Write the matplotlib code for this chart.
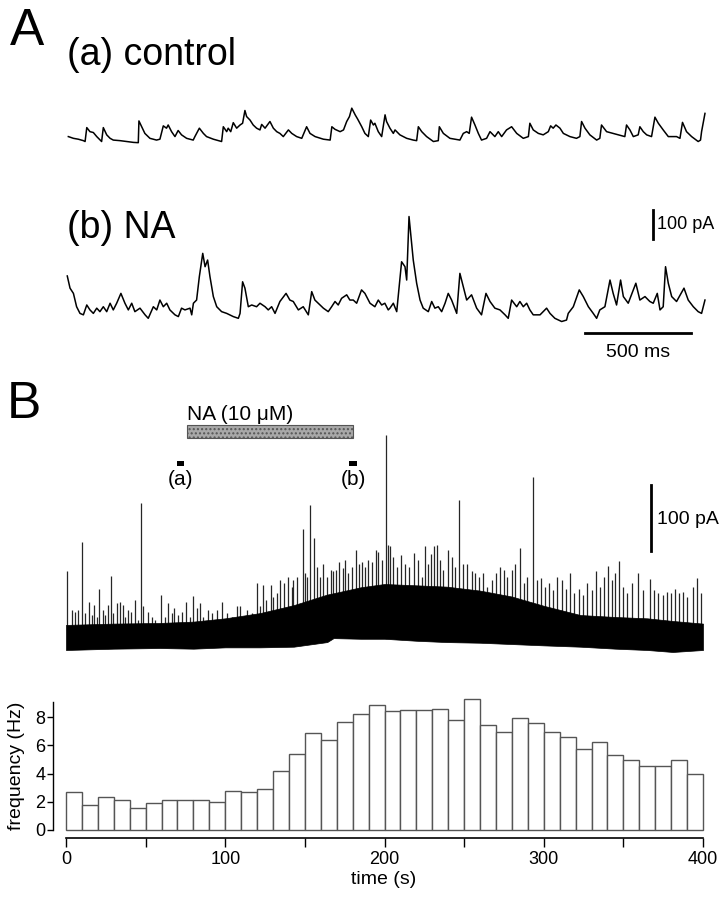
import numpy as np
import matplotlib
matplotlib.use("Agg")
import matplotlib.pyplot as plt
from matplotlib.patches import Rectangle

plt.rcParams['font.family'] = ['Liberation Sans', 'DejaVu Sans']

# ---------------- data ----------------
# Panel A(a): control trace (time ms, current pA above baseline)
control_trace = [
    (11, 29), (35, 23), (58, 20), (82, 15), (90, 12), (98, 60), (113, 46), (129, 43), (145, 29), (168, 12),
    (176, 60), (192, 35), (208, 23), (223, 17), (255, 15), (286, 12), (318, 9), (341, 8), (344, 83), (357, 63),
    (372, 40), (396, 23), (427, 17), (443, 20), (459, 66), (474, 58), (482, 69), (498, 46), (514, 29), (529, 50),
    (545, 35), (569, 23), (600, 17), (608, 29), (629, 58), (648, 40), (663, 29), (695, 20), (734, 12), (742, 63),
    (758, 46), (765, 58), (777, 46), (789, 77), (805, 58), (821, 69), (833, 75), (844, 119), (852, 98), (868, 86),
    (883, 69), (899, 58), (915, 52), (923, 71), (939, 58), (962, 81), (978, 58), (994, 46), (1009, 40), (1025, 29),
    (1049, 52), (1065, 40), (1088, 29), (1112, 23), (1135, 63), (1151, 40), (1175, 29), (1214, 20), (1246, 17),
    (1254, 63), (1269, 54), (1293, 46), (1309, 52), (1324, 81), (1337, 98), (1348, 127), (1364, 104), (1376, 89),
    (1395, 63), (1410, 40), (1426, 29), (1437, 86), (1450, 69), (1457, 75), (1473, 46), (1489, 29), (1505, 104),
    (1512, 81), (1528, 58), (1544, 40), (1552, 52), (1575, 35), (1607, 23), (1638, 17), (1654, 15), (1662, 63),
    (1678, 46), (1701, 29), (1733, 12), (1756, 15), (1761, 63), (1780, 40), (1811, 23), (1858, 17), (1874, 40),
    (1890, 46), (1902, 40), (1913, 96), (1929, 69), (1945, 40), (1960, 17), (1984, 23), (2000, 46), (2023, 29),
    (2039, 46), (2055, 29), (2078, 52), (2102, 63), (2126, 40), (2157, 23), (2181, 29), (2188, 75), (2204, 52),
    (2228, 40), (2251, 35), (2275, 46), (2286, 66), (2298, 58), (2311, 69), (2330, 58), (2346, 40), (2377, 29),
    (2408, 23), (2424, 29), (2432, 81), (2448, 58), (2471, 35), (2503, 17), (2518, 23), (2526, 69), (2550, 46),
    (2581, 40), (2605, 35), (2636, 29), (2644, 69), (2660, 52), (2676, 29), (2699, 35), (2707, 63), (2723, 46),
    (2739, 35), (2762, 29), (2778, 96), (2794, 75), (2817, 52), (2841, 29), (2880, 29), (2896, 23), (2908, 78),
    (2927, 46), (2951, 29), (2982, 12), (2993, 17), (2998, 46), (3014, 109),
]

# Panel A(b): NA trace (time ms, current pA)
na_trace = [
    (6, 238), (19, 196), (35, 178), (50, 132), (66, 109), (82, 104), (98, 138), (113, 121), (129, 109), (145, 127),
    (160, 115), (176, 132), (192, 115), (208, 144), (223, 121), (239, 144), (259, 178), (278, 144), (294, 121),
    (310, 144), (325, 115), (349, 127), (373, 104), (388, 92), (412, 132), (428, 121), (443, 155), (459, 132),
    (475, 144), (490, 121), (514, 104), (530, 98), (545, 127), (561, 121), (585, 127), (593, 104), (601, 144),
    (616, 155), (629, 236), (645, 316), (656, 270), (668, 293), (679, 236), (695, 167), (711, 132), (734, 115),
    (758, 109), (789, 98), (813, 92), (821, 109), (833, 218), (844, 196), (860, 132), (876, 138), (899, 132),
    (915, 144), (939, 132), (954, 121), (970, 132), (986, 109), (1009, 150), (1038, 178), (1056, 155), (1072, 150),
    (1096, 121), (1119, 132), (1143, 104), (1159, 184), (1174, 155), (1190, 144), (1214, 127), (1237, 115),
    (1253, 132), (1269, 150), (1284, 138), (1300, 161), (1324, 173), (1339, 155), (1355, 155), (1371, 144),
    (1394, 190), (1410, 178), (1434, 144), (1457, 132), (1473, 155), (1489, 138), (1504, 144), (1520, 121),
    (1528, 127), (1544, 144), (1560, 115), (1567, 167), (1583, 287), (1599, 270), (1607, 224), (1618, 443),
    (1630, 351), (1638, 293), (1654, 213), (1670, 155), (1685, 127), (1709, 115), (1725, 150), (1740, 127),
    (1756, 132), (1772, 115), (1788, 144), (1803, 178), (1819, 155), (1843, 109), (1858, 247), (1874, 201),
    (1890, 155), (1913, 173), (1937, 127), (1960, 104), (1981, 178), (2000, 150), (2023, 127), (2047, 121),
    (2071, 104), (2086, 92), (2102, 155), (2126, 132), (2141, 150), (2157, 132), (2173, 144), (2188, 121),
    (2204, 104), (2236, 104), (2267, 127), (2283, 109), (2306, 92), (2338, 81), (2361, 86), (2369, 109),
    (2393, 132), (2421, 190), (2440, 167), (2464, 132), (2487, 109), (2503, 92), (2518, 121), (2542, 132),
    (2566, 224), (2581, 178), (2597, 138), (2616, 224), (2629, 167), (2652, 144), (2688, 213), (2707, 155),
    (2731, 167), (2754, 150), (2770, 144), (2789, 178), (2802, 121), (2817, 132), (2828, 270), (2841, 213),
    (2857, 167), (2880, 150), (2915, 196), (2935, 155), (2959, 132), (2982, 115), (2998, 109), (3014, 155),
]

# Panel B: long recording (time s, current pA) - dense band envelope
band_t = [0, 30, 59, 80, 100, 122, 143, 164, 168, 185, 200, 220, 239, 260, 280, 300, 323, 345, 365, 381, 400]
band_low = [0, 2, 3, 2, 4, 4, 5, 12, 18, 17, 17, 14, 12, 11, 9, 7, 5, 2, 0, -3, 0]
band_top = [38, 40, 41, 43, 48, 56, 68, 84, 86, 95, 100, 98, 96, 90, 81, 67, 53, 50, 48, 44, 40]

# Panel B: individual event peaks (time s, pA)
events = [
    (0.4, 119), (3.6, 61), (5.6, 58), (7.7, 61), (9.8, 164), (11.9, 56), (14.6, 73), (16.1, 53), (17.8, 68),
    (19.3, 50), (20.9, 93), (23.0, 61), (24.5, 53), (26.2, 68), (28.3, 112), (29.7, 56), (32.2, 71), (33.9, 73),
    (35.6, 68), (37.0, 50), (39.1, 61), (40.8, 58), (43.3, 76), (45.4, 45), (47.1, 222), (48.6, 66), (51.3, 58),
    (53.8, 50), (55.9, 45), (59.6, 83), (62.2, 50), (63.8, 71), (66.3, 56), (68.0, 63), (70.5, 53), (72.6, 58),
    (75.3, 73), (77.9, 50), (79.5, 82), (82.0, 63), (84.1, 71), (86.2, 50), (89.4, 61), (91.5, 56), (94.6, 61),
    (97.7, 73), (100.9, 56), (104.0, 50), (107.2, 66), (109.2, 66), (111.3, 50), (113.4, 61), (116.6, 56),
    (119.7, 102), (121.8, 66), (123.5, 98), (125.6, 76), (128.5, 98), (130.2, 81), (132.3, 86), (134.4, 106),
    (136.9, 101), (139.6, 111), (141.7, 96), (142.7, 106), (145.3, 111), (148.6, 184), (150.1, 116), (151.5, 111),
    (153.2, 220), (155.7, 169), (157.4, 126), (159.5, 111), (161.6, 131), (163.7, 111), (166.2, 121), (167.9, 119),
    (169.5, 121), (171.6, 134), (173.7, 124), (175.2, 136), (177.3, 116), (179.4, 126), (182.1, 151), (184.2, 131),
    (185.6, 134), (187.7, 126), (189.8, 136), (191.9, 134), (194.6, 151), (196.1, 149), (198.2, 136), (200.9, 326),
    (202.4, 159), (203.5, 157), (205.6, 141), (207.7, 126), (210.2, 144), (212.9, 131), (215.6, 126), (218.6, 147),
    (221.3, 136), (223.4, 111), (225.5, 157), (227.6, 131), (229.0, 146), (231.1, 158), (233.2, 159), (234.9, 136),
    (237.0, 121), (240.1, 151), (242.2, 141), (244.3, 126), (247.0, 227), (249.5, 131), (252.0, 131), (254.8, 119),
    (256.9, 116), (259.6, 111), (262.1, 116), (264.6, 96), (267.3, 106), (270.0, 116), (272.6, 126), (275.1, 121),
    (277.2, 111), (279.9, 121), (282.0, 131), (285.1, 154), (287.6, 101), (289.3, 111), (293.1, 262), (295.6, 106),
    (298.1, 109), (300.8, 96), (303.5, 101), (306.0, 91), (308.6, 111), (311.3, 106), (314.0, 93), (316.5, 116),
    (319.0, 86), (322.4, 93), (324.9, 83), (327.4, 101), (330.1, 91), (332.8, 119), (335.3, 96), (337.9, 111),
    (340.6, 128), (342.7, 106), (345.0, 116), (347.5, 135), (350.0, 96), (352.5, 86), (355.4, 101), (359.4, 116),
    (362.6, 91), (366.7, 107), (369.2, 91), (372.0, 86), (374.7, 83), (377.2, 88), (379.7, 86), (382.4, 93),
    (384.9, 86), (387.7, 88), (390.2, 81), (393.5, 96), (396.5, 109), (398.5, 86),
]

# Histogram: event frequency in 10 s bins
bin_left = list(range(0, 400, 10))
freq_hz = [2.7, 1.75, 2.35, 2.1, 1.55, 1.9, 2.1, 2.1, 2.1, 2.0,
           2.75, 2.7, 2.9, 4.2, 5.4, 6.85, 6.4, 7.65, 8.2, 8.85,
           8.4, 8.5, 8.5, 8.6, 7.8, 9.3, 7.4, 6.95, 7.95, 7.6,
           6.95, 6.6, 5.7, 6.25, 5.3, 4.95, 4.5, 4.5, 4.95, 3.95]
hist_xticks = [0, 50, 100, 150, 200, 250, 300, 350, 400]
hist_xlabels = ['0', '', '100', '', '200', '', '300', '', '400']
hist_yticks = [0, 2, 4, 6, 8]

# ---------------- layout ----------------
W, H = 727, 900
fig = plt.figure(figsize=(W / 100, H / 100), dpi=100)


def px_axes(x0, y0, x1, y1):
    return fig.add_axes([x0 / W, 1 - y1 / H, (x1 - x0) / W, (y1 - y0) / H])


def ftext(x, y, s, **kw):
    fig.text(x / W, 1 - y / H, s, **kw)


MS_PER_PX = 500 / 106.0
PA_PER_PX_A = 100 / 29.0

# A(a)
axa = px_axes(66, 95, 706, 160)
axa.set_axis_off()
axa.set_xlim(0, 640 * MS_PER_PX)
axa.set_ylim(-15 * PA_PER_PX_A, 50 * PA_PER_PX_A)
ct, ci = zip(*control_trace)
axa.plot(ct, ci, color='black', lw=1.1)

# A(b)
axb = px_axes(66, 195, 706, 372)
axb.set_axis_off()
axb.set_xlim(0, 640 * MS_PER_PX)
axb.set_ylim(-27 * PA_PER_PX_A, 150 * PA_PER_PX_A)
nt, ni = zip(*na_trace)
axb.plot(nt, ni, color='black', lw=1.1)
# scale bars
axb.plot([2768, 2768], [365, 465], color='black', lw=2)
axb.text(2790, 415, '100 pA', fontsize=13, va='center', ha='left')
axb.plot([2450, 2950], [40, 40], color='black', lw=2)
axb.text(2700, -25, '500 ms', fontsize=14, va='center', ha='center')

ftext(10, 45, 'A', fontsize=37, va='baseline')
ftext(67, 65, '(a) control', fontsize=27, va='baseline')
ftext(67, 238, '(b) NA', fontsize=27, va='baseline')
ftext(7, 418, 'B', fontsize=37, va='baseline')

# B trace
PA_PER_PX_B = 100 / 66.0
axt = px_axes(66, 395, 703, 660)
axt.set_axis_off()
axt.set_xlim(0, 400)
axt.set_ylim(-10 * PA_PER_PX_B, 255 * PA_PER_PX_B)
et, ei = zip(*events)
axt.fill_between(band_t, band_low, band_top, color='black', lw=0.5, zorder=2)
axt.vlines(et, 30, ei, color='0.15', lw=0.9, zorder=1)
# NA application bar and markers
axt.add_patch(Rectangle((76, 321), 104, 20, facecolor='#a8a8a8', edgecolor='#555555',
                        hatch='....', lw=0.8))
axt.text(76, 348, 'NA (10 \u03bcM)', fontsize=15, va='baseline', ha='left')
axt.add_patch(Rectangle((69.5, 279), 4.5, 7, facecolor='black', edgecolor='none'))
axt.add_patch(Rectangle((177.5, 279), 5.5, 7, facecolor='black', edgecolor='none'))
axt.text(71.8, 250, '(a)', fontsize=15, va='baseline', ha='center')
axt.text(180.5, 250, '(b)', fontsize=15, va='baseline', ha='center')
axt.plot([367.3, 367.3], [150, 250], color='black', lw=2)
axt.text(371, 197, '100 pA', fontsize=14, va='center', ha='left')

# Histogram
axh = px_axes(66, 700, 703, 830)
axh.bar(bin_left, freq_hz, width=10, align='edge', facecolor='white', edgecolor='#555555',
        lw=1.0, clip_on=False)
axh.set_xlim(0, 400)
axh.set_ylim(0, 130 / 14.125)
for s in ['top', 'right']:
    axh.spines[s].set_visible(False)
axh.spines['left'].set_position(('outward', 9.4))
axh.spines['left'].set_bounds(0, 9.08)
axh.spines['bottom'].set_position(('outward', 5.8))
axh.spines['left'].set_linewidth(1.0)
axh.spines['bottom'].set_linewidth(1.2)
axh.set_yticks(hist_yticks)
axh.set_xticks(hist_xticks)
axh.set_xticklabels(hist_xlabels)
axh.tick_params(axis='y', length=4.3, width=1.0, labelsize=13, pad=1)
axh.tick_params(axis='x', length=6.5, width=1.0, labelsize=13, pad=3)
ftext(17, 766, 'frequency (Hz)', fontsize=14, rotation=90, va='center', ha='center')
ftext(384, 879, 'time (s)', fontsize=14, va='center', ha='center')

fig.savefig('out.png', dpi=100)
